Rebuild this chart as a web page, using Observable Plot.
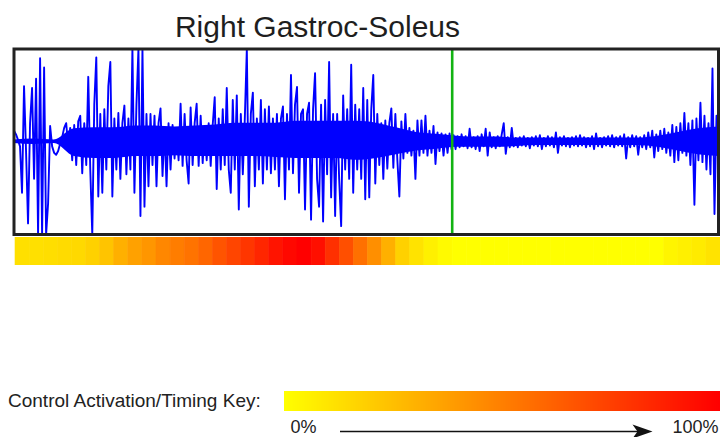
<!DOCTYPE html>
<html><head><meta charset="utf-8">
<script src="https://cdn.jsdelivr.net/npm/d3@7"></script>
<script src="https://cdn.jsdelivr.net/npm/@observablehq/plot@0.6"></script>
<style>
html,body{margin:0;padding:0;background:#fff;}
#root{position:relative;width:720px;height:437px;overflow:hidden;font-family:"Liberation Sans",Arial,sans-serif;}
.abs{position:absolute;}
#title{left:0;width:635px;top:12px;text-align:center;font-size:30px;line-height:1;color:#1e1e1e;white-space:nowrap;}
#keylabel{left:8px;top:391px;font-size:19px;line-height:1;color:#222;white-space:nowrap;}
</style></head><body>
<div id="root">
  <div id="title" class="abs"></div>
  <div id="plotA" class="abs" style="left:0;top:0"></div>
  <div id="plotB" class="abs" style="left:0;top:236.5px"></div>
  <div id="keylabel" class="abs"></div>
  <div id="legend" class="abs" style="left:284px;top:391px"></div>
  <div id="plotD" class="abs" style="left:0;top:413px"></div>
</div>
<script>
const title = "Right Gastroc-Soleus";
const keyLabel = "Control Activation/Timing Key:";
const keyTickLabels = ["0%", "100%"];
const keyTickPositions = [0, 100];
const toeOff = [62.2];

// control activation/timing strip (0 = yellow, 1 = red), 50 bins across the cycle
const activation = [0.12, 0.12, 0.13, 0.14, 0.15, 0.18, 0.23, 0.31, 0.37, 0.41,
  0.47, 0.51, 0.55, 0.60, 0.67, 0.73, 0.79, 0.85, 0.92, 0.97,
  1.0, 0.94, 0.81, 0.69, 0.56, 0.44, 0.31, 0.18, 0.11, 0.06,
  0.02, 0, 0, 0, 0, 0, 0, 0, 0, 0,
  0, 0, 0, 0, 0, 0, 0.04, 0.06, 0.08, 0.11];

// EMG trace (percent of half-height)
const emg = [
  12, 8, 2, -5, -55, 60, -10, -88, 20, 58, -40, 68, -100, 90, -100, 80, -100, -66,
  17, -5, -12, -14, -10, -2, 5, 15, 20, -5, 15, -20, 18, -25, 22, 28, -34, 20, -25,
  70, -30, -100, 40, 91, -59, 30, -55, 35, -30, 60, 86, -59, 25, -30, 31, -40, 20, 39, -35, 25, -30,
  100, -55, 40, 100, -80, 100, -70, 30, -48, 30, -25, 28, -48, 20, 36, -37, 15, -48, 20, -30, 18, -18, 15, -20, 41, -26, 30, -20,
  -45, 37, -25, 20, 41, -26, 28, -23, 15, -20, 20, -26, 18, 48, -51, 25, -30, 35, -25, 58, -30, -55, 45, -30, 50, -73, 30, -35, 25, 100,
  -70, 30, 53, -48, 25, -30, 45, -45, 35, -30, 38, -34, 25, -30, 30, -48, 25, 38, -62, 30, -30, 72, -34, 40, 59, -55, 30,
  35, -73, 30, 42, -84, 35, 74, -40, -70, 40, -86, 45, -35, 86, -60, 30, -80, 30, -40, -91, 50, -30, 35, -40, 83, -55, 40, -30, 35, -40,
  58, -62, 45, -60, 35, 72, -45, 30, -25, 20, -40, 23, -29, 20, 36, -28, 30, -20, -59, 22,
  -18, 30, -12, 15, -15, 12, -40, 23, -15, 23, -12, 28, -15, 12, -12, 17, -24, 10, -10, 9, -15, 8, -12, 9, -8,
  7, -8, 6, -6, 8, -5, 6, -7, 14, -6, 5, -8, 6, -10, 8, -5, 14, -15, 10, -6, 5, -7, 6, -5, 8, 20, -13, 5, -6, 15, -5, 4,
  -6, 5, -4, 6, -5, 4, -7, 5, -4, 6, -5, 7, -8, 4, -5, 6, -4, 5, -6, 10, -12, 5, -4, 6, -5, 4, -6, 5, -4, 6, -5, 7, -4, 5, -6, 4, -5, 6, -8, 9, -5, 4, -6,
  5, -4, 6, -5, 7, -6, 5, -4, 6, -5, 8, -18, 5, -6, 7, -5, 6, -14, 5, -6, 7,
  -8, 10, -6, 12, -17, 8, -10, 12, -8, 14, -12, 10,
  -15, 18, -22, 16, -20, 20, -12, 31,
  -15, 20, -25, 23, -68, 25, -20, 42,
  -22, 28, -30, 20, -35, 79, -78, 28, -15
];

// extent of the solid (dense) core of the trace, read every 20 px across the box
const coreUpper = [2, 3, 2, 14, 15, 15, 17, 17, 16, 17, 18, 20, 20, 20, 22, 22, 22, 22,
  20, 15, 10, 8, 6, 5, 5, 4, 4, 4, 4, 4, 4, 4, 6, 10, 14, 16];
const coreLower = [-2, -3, -2, -16, -18, -18, -16, -16, -15, -16, -16, -16, -16, -17, -18, -18, -18, -20,
  -18, -14, -10, -8, -6, -6, -6, -5, -4, -4, -4, -4, -4, -4, -6, -10, -14, -16];

const FONT = '"Liberation Sans", Arial, sans-serif';
document.getElementById("title").textContent = title;
document.getElementById("keylabel").textContent = keyLabel;

const emgData = emg.map((v, i) => ({t: i * 100 / (emg.length - 1), v}));
const coreData = coreUpper.map((u, k) => ({t: k * 100 / (coreUpper.length - 1), u, l: coreLower[k]}));
const colorScale = {type: "linear", domain: [0, 1], range: ["#ffff00", "#ff0000"], interpolate: "rgb"};

const plotA = Plot.plot({
  width: 720, height: 240,
  marginTop: 48.5, marginBottom: 6, marginLeft: 13.5, marginRight: 2,
  x: {domain: [0, 100], axis: null},
  y: {domain: [-100, 100], axis: null},
  style: {background: "transparent", overflow: "visible"},
  marks: [
    Plot.areaY(coreData, {x: "t", y1: "l", y2: "u", fill: "#0000ff", curve: "monotone-x"}),
    Plot.line(emgData, {x: "t", y: "v", stroke: "#0000ff", strokeWidth: 1.9}),
    Plot.ruleX(toeOff, {stroke: "#12b312", strokeWidth: 2.6}),
    Plot.frame({stroke: "#222", strokeWidth: 3})
  ]
});
document.getElementById("plotA").appendChild(plotA);

const plotB = Plot.plot({
  width: 720, height: 28,
  marginTop: 0, marginBottom: 0, marginLeft: 15, marginRight: 0,
  x: {type: "band", domain: d3.range(activation.length), padding: 0, round: false, axis: null},
  color: colorScale,
  style: {background: "transparent"},
  marks: [
    Plot.cell(activation, {x: (d, i) => i, fill: d => d, stroke: d => d, strokeWidth: 0.6})
  ]
});
document.getElementById("plotB").appendChild(plotB);

const legend = Plot.legend({
  color: {...colorScale, ticks: 0, tickFormat: () => ""},
  width: 436, height: 20,
  marginTop: 0, marginBottom: 0, marginLeft: 0, marginRight: 0,
  ticks: 0, tickSize: 0, tickFormat: () => ""
});
document.getElementById("legend").appendChild(legend);

const arrowHead = {draw(ctx) { ctx.moveTo(10, 0); ctx.lineTo(-10, -7); ctx.lineTo(-5, 0); ctx.lineTo(-10, 7); ctx.closePath(); }};

// key row: svg from y=413 to y=437, arrow line at its middle+6
const plotD = Plot.plot({
  width: 720, height: 24,
  marginTop: 0, marginBottom: 0, marginLeft: 290, marginRight: 48,
  x: {domain: [keyTickPositions[0], keyTickPositions[1]], axis: null},
  y: {domain: [0, 1], axis: null},
  style: {background: "transparent", overflow: "visible"},
  marks: [
    Plot.ruleY([0.5], {x1: keyTickPositions[0], x2: keyTickPositions[1], dy: 6, insetLeft: 50, insetRight: 32, stroke: "#111", strokeWidth: 1.5}),
    Plot.dot([0.5], {x: keyTickPositions[1], y: d => d, dx: -30, dy: 6, symbol: arrowHead, fill: "#111", stroke: "none", r: 5}),
    Plot.text(keyTickLabels, {x: (d, i) => keyTickPositions[i], y: 0.5, dy: 2, textAnchor: "start", fontSize: 18, fill: "#222", fontFamily: FONT})
  ]
});
document.getElementById("plotD").appendChild(plotD);
</script>
</body></html>
